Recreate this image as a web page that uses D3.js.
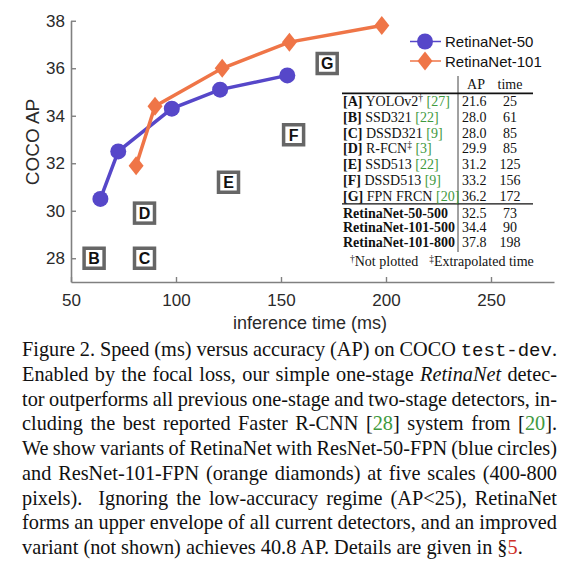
<!DOCTYPE html>
<html>
<head>
<meta charset="utf-8">
<script src="https://cdn.jsdelivr.net/npm/d3@7"></script>
<style>
  body { margin: 0; background: #fff; width: 585px; height: 573px; overflow: hidden; position: relative; }
  svg { position: absolute; left: 0; top: 0; }
  #caption { position: absolute; left: 22px; top: 337px; width: 535px;
    font-family: 'Liberation Serif', 'Times New Roman', serif; font-size: 20.3px; color: #111; }
  .ln { height: 24.75px; line-height: 24.75px; white-space: nowrap; }
  .ln span.in { display: inline-block; }
  .mono { font-family: 'Liberation Mono', 'Courier New', monospace; font-size: 19px; }
  .g { color: #3f9a3f; }
  .r { color: #d0302a; }
</style>
</head>
<body>
<svg id="chart" width="585" height="340"></svg>
<div id="caption"></div>
<script>
// RetinaNet curves (inference time ms, COCO AP)
const r50Time = [64, 72.5, 98, 121, 153]
const r50AP = [30.5, 32.5, 34.3, 35.1, 35.7]
const r101Time = [81, 90, 122, 154, 198]
const r101AP = [31.9, 34.4, 36.0, 37.1, 37.8]

// other detectors shown as boxes
const detLabels = ['B', 'C', 'D', 'E', 'F', 'G']
const detTime = [61, 85, 85, 125, 156, 172]
const detAP = [28.0, 28.0, 29.9, 31.2, 33.2, 36.2]

const xTicks = [50, 100, 150, 200, 250]
const yTicks = [28, 30, 32, 34, 36, 38]

const seriesNames = ['RetinaNet-50', 'RetinaNet-101']

// table rows: [tag, name, sup, ref, AP, time]
const tableRows = [
  ['[A]', ' YOLOv2', '†', '27', '21.6', '25'],
  ['[B]', ' SSD321', '', '22', '28.0', '61'],
  ['[C]', ' DSSD321', '', '9', '28.0', '85'],
  ['[D]', ' R-FCN', '‡', '3', '29.9', '85'],
  ['[E]', ' SSD513', '', '22', '31.2', '125'],
  ['[F]', ' DSSD513', '', '9', '33.2', '156'],
  ['[G]', ' FPN FRCN', '', '20', '36.2', '172']
]
const retinaRows = [
  ['RetinaNet-50-500', '32.5', '73'],
  ['RetinaNet-101-500', '34.4', '90'],
  ['RetinaNet-101-800', '37.8', '198']
]

const captionLines = [
  'Figure 2. Speed (ms) versus accuracy (AP) on COCO <span class="mono">test-dev</span>.',
  'Enabled by the focal loss, our simple one-stage <i>RetinaNet</i> detec-',
  'tor outperforms all previous one-stage and two-stage detectors, in-',
  'cluding the best reported Faster R-CNN [<span class="g">28</span>] system from [<span class="g">20</span>].',
  'We show variants of RetinaNet with ResNet-50-FPN (blue circles)',
  'and ResNet-101-FPN (orange diamonds) at five scales (400-800',
  'pixels).&nbsp; Ignoring the low-accuracy regime (AP&lt;25), RetinaNet',
  'forms an upper envelope of all current detectors, and an improved',
  'variant (not shown) achieves 40.8 AP. Details are given in §<span class="r">5</span>.'
]

const BLUE = '#5647c9'
const ORANGE = '#ef7547'
const GREEN = '#3f9a3f'
const sans = "'Liberation Sans', Arial, Helvetica, sans-serif"
const serif = "'Liberation Serif', 'Times New Roman', serif"

const svg = d3.select('#chart')

const x = d3.scaleLinear().domain([50, 280]).range([71, 554])
const y = d3.scaleLinear().domain([27, 38]).range([282, 20.75])

// axes (inward ticks)
const xAxis = svg.append('g')
  .attr('transform', `translate(0,${y(27)})`)
  .call(d3.axisBottom(x).tickValues(xTicks).tickSizeInner(-5).tickSizeOuter(0).tickPadding(12))
const yAxis = svg.append('g')
  .attr('transform', `translate(${x(50)},0)`)
  .call(d3.axisLeft(y).tickValues(yTicks).tickSizeInner(-5).tickSizeOuter(0).tickPadding(6))

;[xAxis, yAxis].forEach(a => {
  a.select('.domain').attr('stroke', '#808080').attr('stroke-width', 1.6)
  a.selectAll('.tick line').attr('stroke', '#808080').attr('stroke-width', 1.4)
  a.selectAll('.tick text').attr('fill', '#2a2a2a').style('font-family', sans).style('font-size', '17px')
})

svg.append('text')
  .attr('x', 310).attr('y', 329)
  .attr('text-anchor', 'middle')
  .style('font-family', sans).style('font-size', '18px').attr('fill', '#2a2a2a')
  .text('inference time (ms)')

svg.append('text')
  .attr('transform', 'translate(39,142) rotate(-90)')
  .attr('text-anchor', 'middle')
  .style('font-family', sans).style('font-size', '19px').attr('fill', '#2a2a2a')
  .text('COCO AP')

// detector boxes
const boxes = svg.selectAll('.det')
  .data(detLabels.map((l, i) => ({ l, t: detTime[i], ap: detAP[i] })))
  .enter().append('g')
  .attr('class', 'det')
  .attr('transform', d => `translate(${x(d.t)},${y(d.ap)})`)
boxes.append('rect')
  .attr('x', -10).attr('y', -10).attr('width', 20).attr('height', 20)
  .attr('fill', '#fff').attr('stroke', '#666').attr('stroke-width', 3.5)
boxes.append('text')
  .attr('text-anchor', 'middle').attr('dy', '0.36em')
  .style('font-family', sans).style('font-size', '16px').style('font-weight', 'bold')
  .attr('fill', '#111')
  .text(d => d.l)

// series lines + markers
const line = d3.line().x(d => x(d[0])).y(d => y(d[1]))
const s50 = r50Time.map((t, i) => [t, r50AP[i]])
const s101 = r101Time.map((t, i) => [t, r101AP[i]])

const diamond = 'M0,-9.5L7.5,0L0,9.5L-7.5,0Z'

svg.append('path').datum(s50).attr('d', line)
  .attr('fill', 'none').attr('stroke', BLUE).attr('stroke-width', 3.5)
svg.append('path').datum(s101).attr('d', line)
  .attr('fill', 'none').attr('stroke', ORANGE).attr('stroke-width', 3.5)

svg.selectAll('.c50').data(s50).enter().append('circle')
  .attr('cx', d => x(d[0])).attr('cy', d => y(d[1])).attr('r', 8)
  .attr('fill', BLUE)
svg.selectAll('.d101').data(s101).enter().append('path')
  .attr('transform', d => `translate(${x(d[0])},${y(d[1])})`)
  .attr('d', diamond).attr('fill', ORANGE)

// legend
const legend = svg.append('g')
seriesNames.forEach((name, i) => {
  const ly = 41.5 + i * 19.5
  const col = i === 0 ? BLUE : ORANGE
  legend.append('line').attr('x1', 410).attr('x2', 441).attr('y1', ly).attr('y2', ly)
    .attr('stroke', col).attr('stroke-width', 1.5)
  if (i === 0) {
    legend.append('circle').attr('cx', 425).attr('cy', ly).attr('r', 8).attr('fill', col)
  } else {
    legend.append('path').attr('transform', `translate(425,${ly})`).attr('d', diamond).attr('fill', col)
  }
  legend.append('text').attr('x', 445).attr('y', ly + 5.5)
    .style('font-family', sans).style('font-size', '15px').attr('fill', '#111')
    .text(name)
})

// table
const tbl = svg.append('g').style('font-family', serif).style('font-size', '14px').attr('fill', '#111')
const colName = 343
const colAP = 462
const colTime = 510
tbl.append('line').attr('x1', 458).attr('x2', 458).attr('y1', 76).attr('y2', 252)
  .attr('stroke', '#444').attr('stroke-width', 1)
tbl.append('line').attr('x1', 342).attr('x2', 533).attr('y1', 93.3).attr('y2', 93.3)
  .attr('stroke', '#111').attr('stroke-width', 1.8)
tbl.append('line').attr('x1', 342).attr('x2', 533).attr('y1', 203.8).attr('y2', 203.8)
  .attr('stroke', '#111').attr('stroke-width', 1.2)
tbl.append('text').attr('x', 476).attr('y', 88.5).attr('text-anchor', 'middle').text('AP')
tbl.append('text').attr('x', colTime).attr('y', 88.5).attr('text-anchor', 'middle').text('time')

tableRows.forEach((r, i) => {
  const by = 106 + i * 15.8
  const t = tbl.append('text').attr('x', colName).attr('y', by)
  t.append('tspan').style('font-weight', 'bold').text(r[0])
  t.append('tspan').text(r[1])
  if (r[2]) t.append('tspan').attr('dy', -5).style('font-size', '9.5px').text(r[2])
  t.append('tspan').attr('dy', r[2] ? 5 : 0).attr('fill', GREEN).text(' [' + r[3] + ']')
  tbl.append('text').attr('x', colAP).attr('y', by).text(r[4])
  tbl.append('text').attr('x', colTime).attr('y', by).attr('text-anchor', 'middle').text(r[5])
})

retinaRows.forEach((r, i) => {
  const by = 218 + i * 14.3
  tbl.append('text').attr('x', colName).attr('y', by).style('font-weight', 'bold').text(r[0])
  tbl.append('text').attr('x', colAP).attr('y', by).text(r[1])
  tbl.append('text').attr('x', colTime).attr('y', by).attr('text-anchor', 'middle').text(r[2])
})

const foot = tbl.append('text').attr('x', 350).attr('y', 266)
foot.append('tspan').attr('dy', -4).style('font-size', '9.5px').text('†')
foot.append('tspan').attr('dy', 4).text('Not plotted')
foot.append('tspan').attr('dx', 11).attr('dy', -4).style('font-size', '9.5px').text('‡')
foot.append('tspan').attr('dy', 4).text('Extrapolated time')

// caption, justified by adjusting word spacing per line
const capWidth = 535
d3.select('#caption').selectAll('.ln')
  .data(captionLines)
  .enter().append('div')
  .attr('class', 'ln')
  .append('span').attr('class', 'in')
  .html(d => d)
  .each(function (d, i) {
    if (i === captionLines.length - 1) return
    const w = this.getBoundingClientRect().width
    const gaps = (this.textContent.match(/[ \u00a0]/g) || []).length
    if (gaps) this.style.wordSpacing = ((capWidth - w) / gaps) + 'px'
  })
</script>
</body>
</html>
